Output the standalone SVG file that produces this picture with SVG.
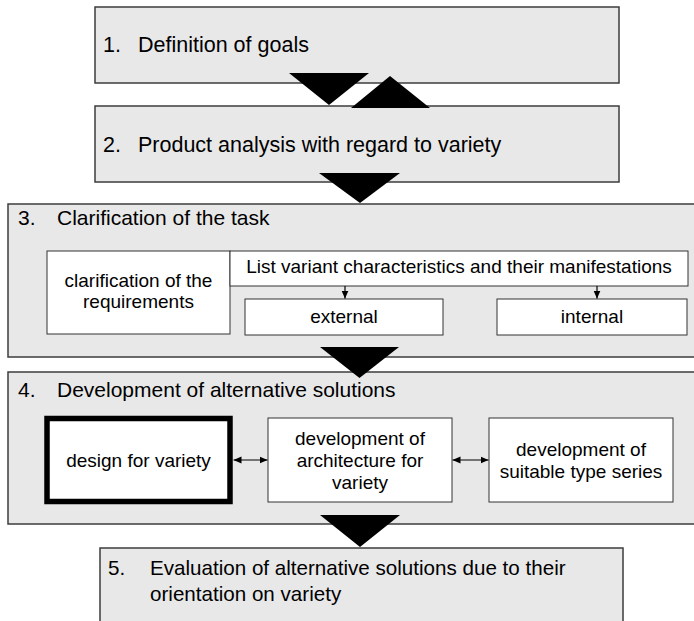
<svg xmlns="http://www.w3.org/2000/svg" width="694" height="621" viewBox="0 0 694 621">
<defs>
<marker id="ah" viewBox="0 0 8 8" refX="8" refY="4" markerWidth="8" markerHeight="8" markerUnits="userSpaceOnUse" orient="auto-start-reverse">
<path d="M0,0.5 L8,4 L0,7.5 z" fill="#000"/>
</marker>
<style>
.stage{fill:#e8e8e8;stroke:#3c3c3c;stroke-width:1.5}
.inner{fill:#fff;stroke:#333;stroke-width:1}
.head{font-family:"Liberation Sans",Arial,sans-serif;font-size:21px;fill:#000}
.big{font-size:21.5px}
.h5{font-size:20.6px}
.txt{font-family:"Liberation Sans",Arial,sans-serif;font-size:19px;fill:#000;text-anchor:middle}
.tri{fill:#000}
.con{stroke:#000;stroke-width:1.2;fill:none}
</style>
</defs>
<rect width="694" height="621" fill="#fff"/>
<g id="stage1">
<rect class="stage" x="95" y="7" width="524" height="76"/>
<text class="head big" x="103" y="52">1.</text>
<text class="head big" x="138" y="52">Definition of goals</text>
</g>
<g id="stage2">
<rect class="stage" x="95" y="106" width="524" height="76"/>
<text class="head big" x="103" y="152">2.</text>
<text class="head big" x="138" y="152">Product analysis with regard to variety</text>
</g>
<g id="stage3">
<rect class="stage" x="8" y="204" width="690" height="153"/>
<text class="head" x="18" y="225">3.</text>
<text class="head" x="57" y="225">Clarification of the task</text>
</g>
<g id="requirements">
<rect class="inner" x="47" y="251" width="183" height="83"/>
<text class="txt" x="138.5" y="287">clarification of the</text>
<text class="txt" x="138.5" y="308">requirements</text>
</g>
<g id="variants">
<rect class="inner" x="230" y="251" width="458" height="35"/>
<text class="txt" x="459" y="273">List variant characteristics and their manifestations</text>
</g>
<g id="external">
<rect class="inner" x="245" y="299" width="198" height="36"/>
<text class="txt" x="344" y="323">external</text>
</g>
<g id="internal">
<rect class="inner" x="497" y="299" width="190" height="36"/>
<text class="txt" x="592" y="323">internal</text>
</g>
<g id="stage4">
<rect class="stage" x="8" y="372" width="690" height="152"/>
<text class="head" x="18" y="397">4.</text>
<text class="head" x="57" y="397">Development of alternative solutions</text>
</g>
<g id="design">
<rect x="47" y="418.5" width="183" height="83" fill="#fff" stroke="#000" stroke-width="5.5"/>
<text class="txt" x="138.5" y="467">design for variety</text>
</g>
<g id="architecture">
<rect class="inner" x="268" y="418" width="184" height="84"/>
<text class="txt" x="360" y="445">development of</text>
<text class="txt" x="360" y="467">architecture for</text>
<text class="txt" x="360" y="489">variety</text>
</g>
<g id="typeseries">
<rect class="inner" x="489" y="418" width="184" height="84"/>
<text class="txt" x="581" y="456">development of</text>
<text class="txt" x="581" y="478">suitable type series</text>
</g>
<g id="stage5">
<rect class="stage" x="100" y="548" width="523" height="80"/>
<text class="head h5" x="108" y="575">5.</text>
<text class="head h5" x="150" y="575">Evaluation of alternative solutions due to their</text>
<text class="head h5" x="150" y="601">orientation on variety</text>
</g>
<g id="connectors">
<polygon class="tri" points="289,73 369,73 329,105"/>
<polygon class="tri" points="351,108 430,108 390,76"/>
<polygon class="tri" points="319,173 400,173 360,203"/>
<polygon class="tri" points="320,347 399,347 359.5,378"/>
<polygon class="tri" points="320,515 400,515 360,547"/>
<line class="con" x1="345" y1="286" x2="345" y2="298.5" marker-end="url(#ah)"/>
<line class="con" x1="597" y1="286" x2="597" y2="298.5" marker-end="url(#ah)"/>
<line class="con" x1="233.5" y1="460" x2="267.5" y2="460" marker-start="url(#ah)" marker-end="url(#ah)"/>
<line class="con" x1="452.5" y1="460" x2="488.5" y2="460" marker-start="url(#ah)" marker-end="url(#ah)"/>
</g>
</svg>
